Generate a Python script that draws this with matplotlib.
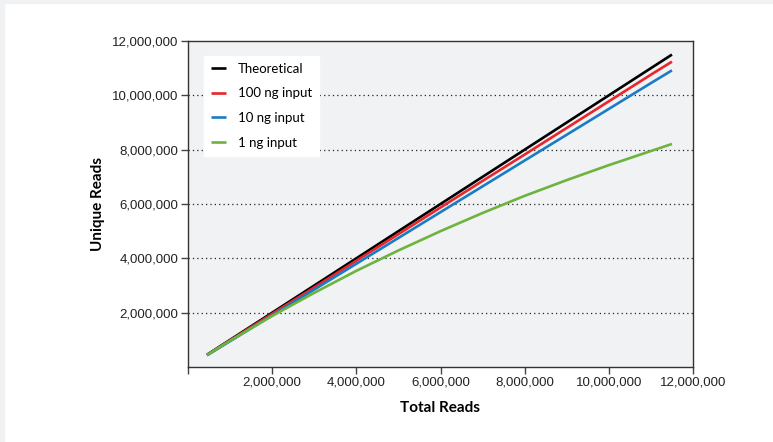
import matplotlib
matplotlib.use("Agg")
import matplotlib.pyplot as plt
from matplotlib.ticker import FuncFormatter
from matplotlib.patches import Rectangle

# values (millions of reads)
total_reads = [0.45, 1, 2, 3, 4, 5, 6, 7, 8, 9, 10, 11, 11.5]
theoretical = [0.45, 1, 2, 3, 4, 5, 6, 7, 8, 9, 10, 11, 11.5]
ng100 = [0.44, 0.98, 1.96, 2.93, 3.91, 4.89, 5.87, 6.85, 7.82, 8.80, 9.78, 10.76, 11.24]
ng10 = [0.43, 0.95, 1.90, 2.85, 3.80, 4.75, 5.70, 6.65, 7.60, 8.55, 9.50, 10.45, 10.92]
ng1 = [0.44, 0.97, 1.88, 2.73, 3.54, 4.29, 5.00, 5.67, 6.30, 6.88, 7.43, 7.95, 8.21]

series = [("Theoretical", theoretical, "#000000"),
          ("100 ng input", ng100, "#e8262b"),
          ("10 ng input", ng10, "#1a7cc4"),
          ("1 ng input", ng1, "#6cb33f")]

fig = plt.figure(figsize=(7.73, 4.42), dpi=100)
fig.patch.set_facecolor("white")
# thin grey strips on top and left edge of the page
fig.patches.append(Rectangle((0, 1 - 3/442), 1, 3/442, transform=fig.transFigure, color="#eff1f3", zorder=0))
fig.patches.append(Rectangle((0, 0), 4/773, 1, transform=fig.transFigure, color="#eff1f3", zorder=0))

ax = fig.add_axes([188/773, 1 - 367/442, 505/773, 326/442])
ax.set_facecolor("#f1f2f4")

for name, vals, col in series:
    ax.plot([v * 1e6 for v in total_reads], [v * 1e6 for v in vals],
            color=col, lw=1.9, label=name, solid_capstyle="butt")

ax.set_xlim(0, 12e6)
ax.set_ylim(0, 12e6)
ax.set_xticks([i * 2e6 for i in range(7)])
ax.set_yticks([i * 2e6 for i in range(1, 7)])
fmt = FuncFormatter(lambda v, p: "" if v == 0 else f"{int(v):,}")
ax.xaxis.set_major_formatter(fmt)
ax.yaxis.set_major_formatter(fmt)
ax.tick_params(direction="out", length=5, width=1, color="#444444", labelsize=9.5,
               labelcolor="#222222", pad=2)
for lab in ax.get_xticklabels() + ax.get_yticklabels():
    lab.set_family("Liberation Sans")

for s in ax.spines.values():
    s.set_color("#333333")
    s.set_linewidth(1)

for y in range(1, 6):
    ax.axhline(y * 2e6, color="#222222", lw=0.9, ls=(0, (1, 2.5)), zorder=0.5)

ax.set_xlabel("Total Reads", fontsize=11, fontweight="bold", family="Lato", labelpad=9)
ax.set_ylabel("Unique Reads", fontsize=11, fontweight="bold", family="Lato", labelpad=5)

leg = ax.legend(loc="upper left", bbox_to_anchor=(0.032, 0.955), frameon=True, fancybox=False,
                prop={"family": "Lato", "size": 9.5}, handlelength=1.1, handletextpad=0.9,
                labelspacing=0.95, borderpad=0.55, borderaxespad=0)
leg.get_frame().set_edgecolor("white")
leg.get_frame().set_facecolor("white")
leg.get_frame().set_alpha(1)

fig.savefig("out.png", dpi=100)
